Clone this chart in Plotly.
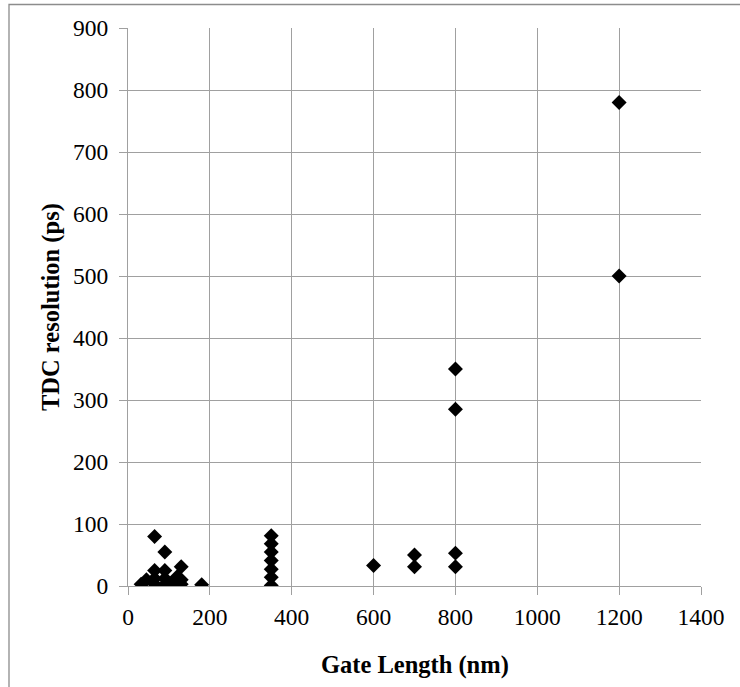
import plotly.graph_objects as go

# Gate length (nm) and TDC resolution (ps) for the surveyed designs
gate_length_nm = [32, 45, 65, 65, 65, 65, 90, 90, 90, 90, 110, 120, 130, 130, 130, 180,
                  350, 350, 350, 350, 350, 350, 350,
                  600, 700, 700, 800, 800, 800, 800, 1200, 1200]
tdc_resolution_ps = [3, 10, 80, 25, 12, 3, 55, 25, 12, 2, 5, 15, 31, 10, 3, 2,
                     81, 68, 55, 41, 27, 14, 1,
                     33, 50, 31, 53, 31, 350, 285, 780, 500]

x_ticks = [0, 200, 400, 600, 800, 1000, 1200, 1400]
y_ticks = [0, 100, 200, 300, 400, 500, 600, 700, 800, 900]

GRID = "#a0a0a0"
FONT = "Liberation Serif, Times New Roman, serif"

fig = go.Figure(
    go.Scatter(
        x=gate_length_nm,
        y=tdc_resolution_ps,
        mode="markers",
        marker=dict(symbol="diamond", size=11.5, color="black", line=dict(width=0)),
        showlegend=False,
    )
)

axis_common = dict(
    showgrid=True,
    gridcolor=GRID,
    gridwidth=1.3,
    showline=True,
    linecolor=GRID,
    linewidth=1.3,
    ticks="outside",
    ticklen=8,
    tickwidth=1.3,
    tickcolor=GRID,
    zeroline=False,
    tickfont=dict(family=FONT, size=23.5, color="black"),
)

fig.update_xaxes(range=[0, 1400], tickvals=x_ticks, ticklabelstandoff=2, **axis_common)
fig.update_yaxes(range=[0, 900], tickvals=y_ticks, ticklabelstandoff=6, **axis_common)

L, R, T, B = 128, 39, 28, 101
W, H = 740, 687
pw, ph = W - L - R, H - T - B

# chart-area frame
fig.add_shape(
    type="rect", xref="paper", yref="paper",
    x0=(9 - L) / pw, x1=(W + 6 - L) / pw,
    y0=-(H + 6 - (H - B)) / ph, y1=(H - B - 4.5) / ph,
    line=dict(color="#8c8c8c", width=1.3), layer="below",
)

fig.add_annotation(
    text="<b>Gate Length (nm)</b>", xref="paper", yref="paper",
    x=0.5, y=-(665 - (H - B)) / ph, xanchor="center", yanchor="middle",
    showarrow=False, font=dict(family=FONT, size=24.5, color="black"),
)
fig.add_annotation(
    text="<b>TDC resolution (ps)</b>", xref="paper", yref="paper",
    x=(51 - L) / pw, y=0.5, xanchor="center", yanchor="middle", textangle=-90,
    showarrow=False, font=dict(family=FONT, size=24.5, color="black"),
)

fig.update_layout(
    width=W, height=H,
    margin=dict(l=L, r=R, t=T, b=B),
    plot_bgcolor="white", paper_bgcolor="white",
)

fig.write_html("out.html")
